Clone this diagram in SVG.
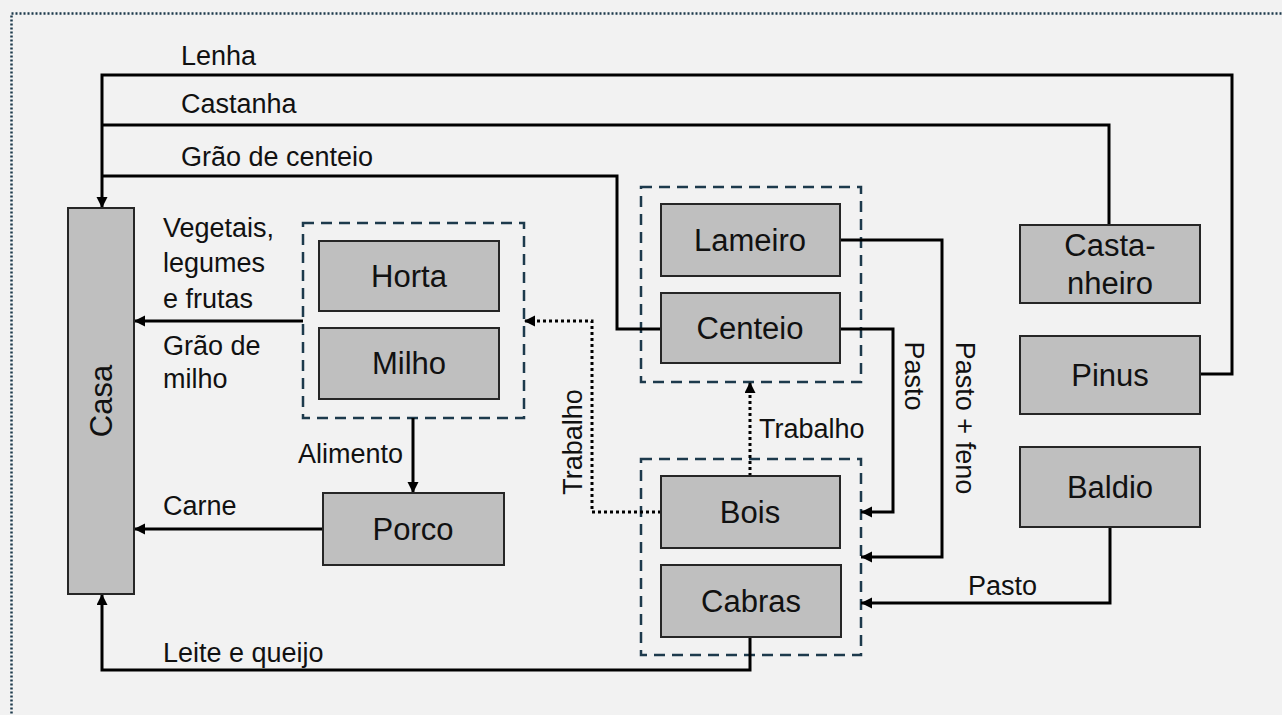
<svg xmlns="http://www.w3.org/2000/svg" width="1282" height="715" viewBox="0 0 1282 715">
<defs>
<marker id="ah" markerUnits="userSpaceOnUse" markerWidth="12" markerHeight="12" refX="11" refY="5.5" orient="auto">
<path d="M0,0 L11,5.5 L0,11 z" fill="#000"/>
</marker>
<style>
.box{fill:#bfbfbf;stroke:#262626;stroke-width:2}
.grp{fill:none;stroke:#1d3a4c;stroke-width:2.5;stroke-dasharray:11 7}
.ln{fill:none;stroke:#000;stroke-width:3}
.dot{fill:none;stroke:#000;stroke-width:3;stroke-dasharray:3 3}
.bt{font-family:"Liberation Sans",Arial,sans-serif;font-size:31px;fill:#111;text-anchor:middle}
.lt{font-family:"Liberation Sans",Arial,sans-serif;font-size:27px;fill:#111}
</style>
</defs>
<rect width="1282" height="715" fill="#f2f2f2"/>
<rect x="11.5" y="13.5" width="1300" height="720" fill="none" stroke="#1d3a4c" stroke-width="2.5" stroke-dasharray="2 2"/>

<g id="groups">
<rect class="grp" x="303" y="223" width="221" height="195"/>
<rect class="grp" x="641" y="187" width="220" height="195"/>
<rect class="grp" x="641" y="459" width="220" height="196"/>
</g>

<g id="connectors">
<path class="ln" d="M1200,374 H1232 V75 H102 V208" marker-end="url(#ah)"/>
<path class="ln" d="M1109,225 V125 H102"/>
<path class="ln" d="M661,329 H617 V176 H102"/>
<path class="ln" d="M303,321 H134" marker-end="url(#ah)"/>
<path class="ln" d="M413,418 V493" marker-end="url(#ah)"/>
<path class="ln" d="M323,529 H134" marker-end="url(#ah)"/>
<path class="ln" d="M750,637 V670 H102 V594" marker-end="url(#ah)"/>
<path class="ln" d="M840,329 H893 V512 H861" marker-end="url(#ah)"/>
<path class="ln" d="M840,240 H942 V557 H861" marker-end="url(#ah)"/>
<path class="ln" d="M1110,527 V603 H861" marker-end="url(#ah)"/>
<path class="dot" d="M750,476 V382" marker-end="url(#ah)"/>
<path class="dot" d="M661,512 H592 V321 H524" marker-end="url(#ah)"/>
</g>

<g id="labels">
<text class="lt" x="181" y="65">Lenha</text>
<text class="lt" x="181" y="113">Castanha</text>
<text class="lt" x="181" y="166">Grão de centeio</text>
<text class="lt" x="163" y="237">Vegetais,</text>
<text class="lt" x="163" y="272">legumes</text>
<text class="lt" x="163" y="308">e frutas</text>
<text class="lt" x="163" y="355">Grão de</text>
<text class="lt" x="163" y="388">milho</text>
<text class="lt" x="403" y="463" text-anchor="end">Alimento</text>
<text class="lt" x="163" y="515">Carne</text>
<text class="lt" x="163" y="662">Leite e queijo</text>
<text class="lt" x="759" y="438">Trabalho</text>
<text class="lt" x="968" y="595">Pasto</text>
<text class="lt" transform="translate(582,442) rotate(-90)" text-anchor="middle">Trabalho</text>
<text class="lt" transform="translate(905,376) rotate(90)" text-anchor="middle">Pasto</text>
<text class="lt" transform="translate(956,418) rotate(90)" text-anchor="middle">Pasto + feno</text>
</g>

<g id="casa"><rect class="box" x="68" y="208" width="66" height="386"/><text class="bt" transform="translate(112,401) rotate(-90)">Casa</text></g>
<g id="horta"><rect class="box" x="319" y="241" width="180" height="70"/><text class="bt" x="409" y="287">Horta</text></g>
<g id="milho"><rect class="box" x="319" y="328" width="180" height="71"/><text class="bt" x="409" y="374">Milho</text></g>
<g id="porco"><rect class="box" x="323" y="493" width="181" height="72"/><text class="bt" x="413" y="540">Porco</text></g>
<g id="lameiro"><rect class="box" x="661" y="204" width="179" height="72"/><text class="bt" x="750" y="251">Lameiro</text></g>
<g id="centeio"><rect class="box" x="661" y="293" width="179" height="70"/><text class="bt" x="750" y="339">Centeio</text></g>
<g id="bois"><rect class="box" x="661" y="476" width="179" height="72"/><text class="bt" x="750" y="523">Bois</text></g>
<g id="cabras"><rect class="box" x="661" y="565" width="180" height="72"/><text class="bt" x="751" y="612">Cabras</text></g>
<g id="castanheiro"><rect class="box" x="1020" y="225" width="180" height="78"/><text class="bt" x="1110" y="256">Casta-</text><text class="bt" x="1110" y="294">nheiro</text></g>
<g id="pinus"><rect class="box" x="1020" y="336" width="180" height="78"/><text class="bt" x="1110" y="386">Pinus</text></g>
<g id="baldio"><rect class="box" x="1020" y="447" width="180" height="80"/><text class="bt" x="1110" y="498">Baldio</text></g>
</svg>
